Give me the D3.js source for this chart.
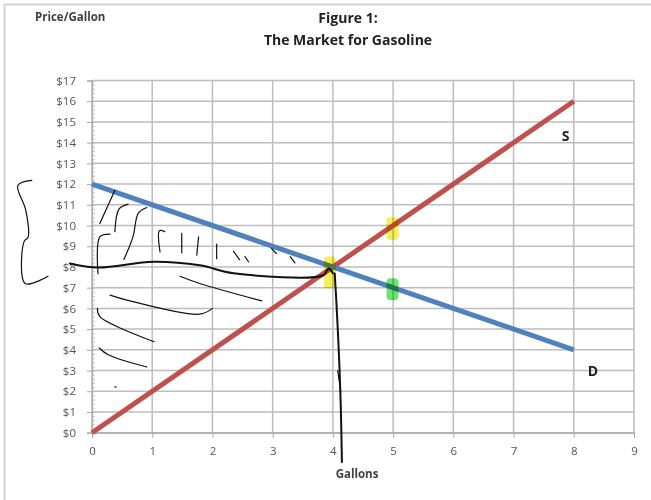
<!DOCTYPE html>
<html>
<head>
<meta charset="utf-8">
<script src="https://cdn.jsdelivr.net/npm/d3@7"></script>
<style>
  body { margin: 0; background: #fff; }
  text { font-family: "Open Sans", "Liberation Sans", sans-serif; }
</style>
</head>
<body>
<div id="chart"></div>
<script>
// chart values
var quantities = [0, 8];
var supplyPrices = [0, 16];
var demandPrices = [12, 4];
var xTicks = [0, 1, 2, 3, 4, 5, 6, 7, 8, 9];
var yTicks = d3.range(0, 18);

// hand drawn notes on the picture, in gallons / dollars
var penLines = [
  [[-0.37, 8.17], [0.10, 7.97], [1.02, 8.25], [1.79, 8.08], [2.35, 7.7], [3.84, 7.6], [3.93, 7.93], [4.0, 7.7]],
  [[4.03, 7.69], [4.06, 6.2], [4.1, 3.8], [4.13, 1.4], [4.15, -1.41]],
  [[4.08, 3.0], [4.13, 2.0]],
  [[-1.0, 12.18], [-1.23, 11.94], [-1.10, 10.74], [-1.06, 9.45], [-1.13, 9.21], [-1.11, 7.2], [-0.73, 7.55]],
  [[0.13, 10.1], [0.38, 11.7]],
  [[0.38, 9.7], [0.45, 10.8], [0.6, 11.03]],
  [[0.53, 8.36], [0.68, 9.45], [0.77, 10.6], [0.91, 10.87]],
  [[0.10, 7.68], [0.13, 9.45], [0.3, 9.58]],
  [[1.13, 8.73], [1.12, 9.75], [1.21, 9.7]],
  [[1.49, 8.68], [1.49, 9.62]],
  [[1.74, 8.57], [1.77, 9.45]],
  [[2.07, 8.4], [2.07, 9.1]],
  [[2.35, 8.75], [2.45, 8.35]],
  [[2.54, 8.5], [2.6, 8.25]],
  [[2.98, 8.9], [3.06, 8.65]],
  [[3.29, 8.5], [3.37, 8.2]],
  [[1.46, 7.55], [1.79, 7.2], [2.82, 6.36]],
  [[0.30, 6.64], [0.58, 6.4], [1.79, 5.72], [2.0, 6.0]],
  [[0.09, 6.0], [0.13, 5.6], [1.03, 4.39]],
  [[0.12, 4.09], [0.27, 3.76], [0.91, 3.17]],
  [[0.38, 2.22], [0.40, 2.20]]
];
var markerSpots = [
  { x: 3.95, y0: 6.96, y1: 8.5 },
  { x: 4.99, y0: 9.3, y1: 10.4 },
  { x: 4.99, y0: 6.4, y1: 7.45 }
];
var markerNames = ["yellow", "yellow", "green"];

var fullWidth = 651;
var fullHeight = 500;

var svg = d3.select("#chart")
  .append("svg")
  .attr("width", fullWidth)
  .attr("height", fullHeight);

// outer frame of the chart
svg.append("rect")
  .attr("x", 4.5).attr("y", 4.5)
  .attr("width", 700).attr("height", 600)
  .attr("fill", "none")
  .attr("stroke", "#d4d4d4")
  .attr("stroke-width", 2);

var xScale = d3.scaleLinear().domain([0, 9]).range([92, 634]);
var yScale = d3.scaleLinear().domain([0, 17]).range([432.7, 80.5]);

// grid
svg.append("g").selectAll("line.h")
  .data(yTicks).enter().append("line")
  .attr("x1", xScale(0)).attr("x2", xScale(9))
  .attr("y1", function(d) { return yScale(d); })
  .attr("y2", function(d) { return yScale(d); })
  .attr("stroke", "#bdbdbd").attr("stroke-width", 1.5);

svg.append("g").selectAll("line.v")
  .data(xTicks).enter().append("line")
  .attr("x1", function(d) { return xScale(d); })
  .attr("x2", function(d) { return xScale(d); })
  .attr("y1", yScale(0)).attr("y2", yScale(17))
  .attr("stroke", "#bdbdbd").attr("stroke-width", 1.5);

// y axis: major ticks outside, minor ticks inside
var yAxis = d3.axisLeft(yScale)
  .tickValues(yTicks)
  .tickSize(5)
  .tickPadding(11)
  .tickFormat(function(d) { return "$" + d; });
var gy = svg.append("g")
  .attr("transform", "translate(" + xScale(0) + ",0)")
  .call(yAxis);
gy.select(".domain").attr("stroke", "#a6a6a6").attr("stroke-width", 1.2);
gy.selectAll(".tick line").attr("stroke", "#a6a6a6");
gy.selectAll("text").attr("fill", "#555").attr("font-size", "11.5px");

var gyMinor = svg.append("g")
  .attr("transform", "translate(" + xScale(0) + ",0)")
  .call(d3.axisRight(yScale).tickValues(d3.range(0, 17.01, 0.2)).tickSize(3).tickFormat(""));
gyMinor.select(".domain").remove();
gyMinor.selectAll(".tick line").attr("stroke", "#b5b5b5").attr("stroke-width", 0.8);

// x axis
var xAxis = d3.axisBottom(xScale)
  .tickValues(xTicks)
  .tickSize(5)
  .tickPadding(9);
var gx = svg.append("g")
  .attr("transform", "translate(0," + yScale(0) + ")")
  .call(xAxis);
gx.select(".domain").attr("stroke", "#a6a6a6").attr("stroke-width", 1.2);
gx.selectAll(".tick line").attr("stroke", "#a6a6a6");
gx.selectAll("text").attr("fill", "#555").attr("font-size", "11.5px");

// supply and demand
var line = d3.line()
  .x(function(d) { return xScale(d[0]); })
  .y(function(d) { return yScale(d[1]); });

svg.append("path")
  .datum(d3.zip(quantities, supplyPrices))
  .attr("d", line)
  .attr("fill", "none")
  .attr("stroke", "#c0504d")
  .attr("stroke-width", 5);

svg.append("path")
  .datum(d3.zip(quantities, demandPrices))
  .attr("d", line)
  .attr("fill", "none")
  .attr("stroke", "#4f81bd")
  .attr("stroke-width", 5);

// highlighter marks
var markColor = { yellow: "#f4ee3c", green: "#52e052" };
svg.append("g").selectAll("rect")
  .data(markerSpots).enter().append("rect")
  .attr("x", function(d) { return xScale(d.x) - 6; })
  .attr("y", function(d) { return yScale(d.y1); })
  .attr("width", 12)
  .attr("height", function(d) { return yScale(d.y0) - yScale(d.y1); })
  .attr("rx", 4)
  .attr("fill", function(d, i) { return markColor[markerNames[i]]; })
  .attr("opacity", 0.85)
  .style("mix-blend-mode", "multiply");

// pen notes
var pen = d3.line()
  .curve(d3.curveCatmullRom)
  .x(function(d) { return xScale(d[0]); })
  .y(function(d) { return yScale(d[1]); });
svg.append("g").selectAll("path")
  .data(penLines).enter().append("path")
  .attr("d", pen)
  .attr("fill", "none")
  .attr("stroke", "#111")
  .attr("stroke-width", function(d, i) { return i < 2 ? 2 : 1.2; })
  .attr("stroke-linecap", "round");

// labels
svg.append("text")
  .attr("x", xScale(7.8)).attr("y", yScale(14.1))
  .attr("font-size", "14px").attr("font-weight", "bold").attr("fill", "#222")
  .text("S");
svg.append("text")
  .attr("x", xScale(8.23)).attr("y", yScale(2.75))
  .attr("font-size", "14px").attr("font-weight", "bold").attr("fill", "#222")
  .text("D");

svg.append("text")
  .attr("x", 348).attr("y", 23)
  .attr("text-anchor", "middle")
  .attr("font-size", "14px").attr("font-weight", "bold").attr("fill", "#222")
  .text("Figure 1:");
svg.append("text")
  .attr("x", 348).attr("y", 45)
  .attr("text-anchor", "middle")
  .attr("font-size", "14px").attr("font-weight", "bold").attr("fill", "#222")
  .text("The Market for Gasoline");

svg.append("text")
  .attr("x", 35).attr("y", 21)
  .attr("font-size", "11.5px").attr("font-weight", "bold").attr("fill", "#404040")
  .text("Price/Gallon");
svg.append("text")
  .attr("x", 357).attr("y", 478)
  .attr("text-anchor", "middle")
  .attr("font-size", "11.5px").attr("font-weight", "bold").attr("fill", "#404040")
  .text("Gallons");
</script>
</body>
</html>
